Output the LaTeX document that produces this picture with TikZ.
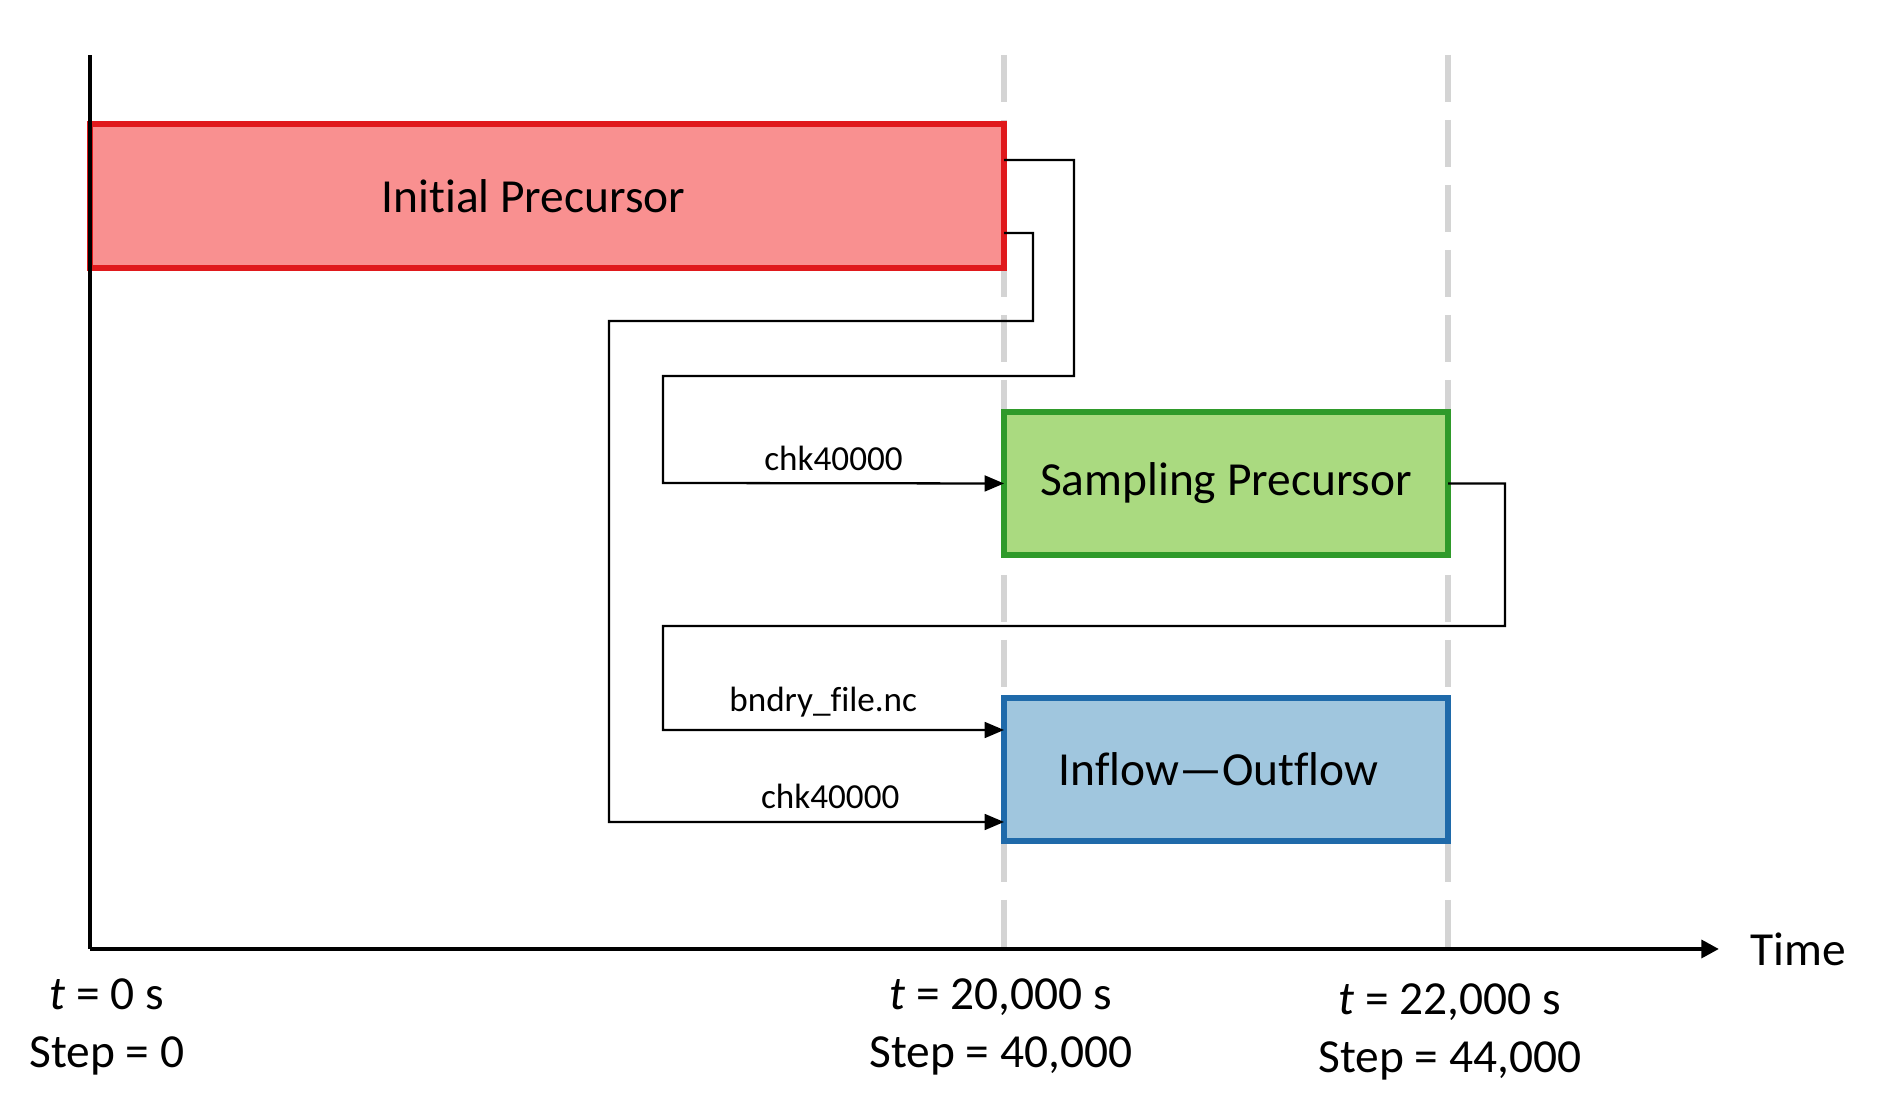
\documentclass[tikz,border=0pt]{standalone}
\usepackage{fontspec}
\setmainfont[Ligatures={NoCommon}]{Carlito}
\usetikzlibrary{positioning,calc,arrows.meta}
\definecolor{initFill}{HTML}{F99090}
\definecolor{initLine}{HTML}{E0191C}
\definecolor{sampFill}{HTML}{AADA80}
\definecolor{sampLine}{HTML}{2F9A2A}
\definecolor{flowFill}{HTML}{A0C6DE}
\definecolor{flowLine}{HTML}{1F6AAA}
\definecolor{markGray}{HTML}{D4D4D4}

\begin{document}
\begin{tikzpicture}[
  phasebox/.style={draw, line width=1.5pt, outer sep=0pt, inner sep=0pt, font=\fontsize{13.5}{16}\selectfont},
  link/.style={line width=0.65pt},
  feed/.style={link, -{Triangle[length=5.5pt,width=4.5pt]}},
  filelbl/.style={font=\fontsize{10}{12}\selectfont},
  ticklbl/.style={font=\fontsize{13.5}{16.5}\selectfont, align=center}
]
  \useasboundingbox (0,0) rectangle (19.01,-11.04);

  % Time markers
  \foreach \x in {10.04,14.48} {
    \draw[markGray, line width=1.5pt, dash pattern=on 0.47cm off 0.18cm] (\x,-0.55) -- (\x,-9.49);
  }

  % Simulation phases
  \node[phasebox, fill=initFill, draw=initLine, minimum width=9.14cm, minimum height=1.44cm, anchor=north west] (initPre) at (0.90,-1.24) {\hspace*{-0.27cm}Initial Precursor};
  \node[phasebox, fill=sampFill, draw=sampLine, minimum width=4.44cm, minimum height=1.43cm, below right=1.44cm and 0cm of initPre.south east] (sampPre) {Sampling Precursor};
  \node[phasebox, fill=flowFill, draw=flowLine, minimum width=4.44cm, minimum height=1.43cm, below=1.43cm of sampPre] (inOut) {\hspace*{-0.15cm}Inflow—Outflow};

  % Axes
  \coordinate (origin) at (0.90,-9.49);
  \draw[line width=1.3pt] (origin) -- (0.90,-0.55);
  \draw[line width=1.4pt, -{Triangle[length=5pt,width=5pt]}] (origin) -- (17.19,-9.49) node[right=0.17cm, ticklbl] (timeLbl) {Time};

  % Tick labels
  \node[ticklbl] (tick0) at (1.07,-10.27) {\textit{t} = 0 s\\Step = 0};
  \node[ticklbl] (tick1) at (10.01,-10.27) {\textit{t} = 20,000 s\\Step = 40,000};
  \node[ticklbl] (tick2) at (14.50,-10.32) {\textit{t} = 22,000 s\\Step = 44,000};

  % File transfers
  \draw[feed] ([yshift=0.36cm]initPre.east) -| (10.74,-3.76) -| (6.63,-4.83) -- (sampPre.west) node[midway, above, filelbl] {chk40000};
  \draw[feed] ([yshift=-0.37cm]initPre.east) -| (10.33,-3.21) -| (6.09,-8.22) -- ([yshift=-0.525cm]inOut.west) node[pos=0.56, above, filelbl] {chk40000};
  \draw[feed] (sampPre.east) -| (15.05,-6.26) -| (6.63,-7.30) -- ([yshift=0.395cm]inOut.west) node[pos=0.47, above, filelbl] {bndry\_file.nc};
\end{tikzpicture}
\end{document}
